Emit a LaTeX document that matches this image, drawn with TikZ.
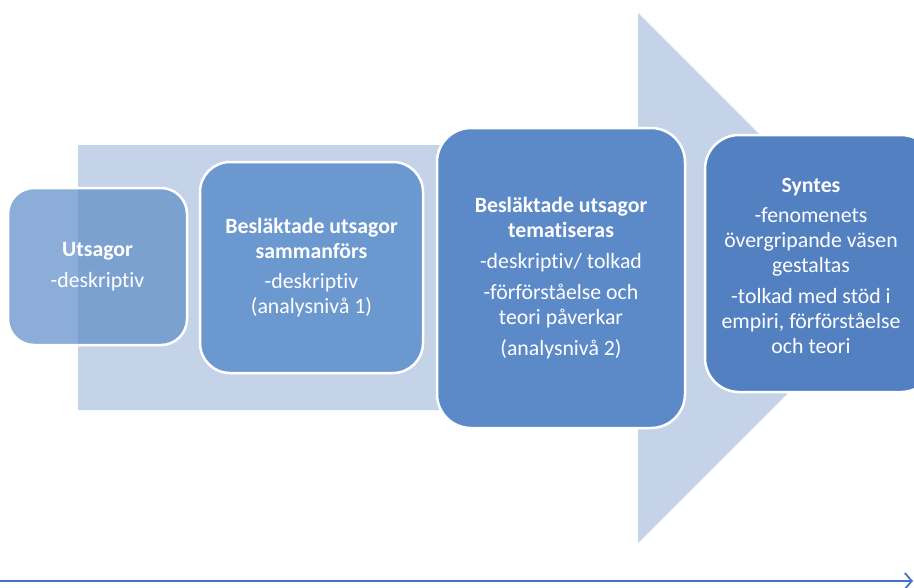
\documentclass[tikz,border=0pt]{standalone}
\usepackage{fontspec}
\setmainfont{Carlito}[Ligatures={NoCommon}]
\usetikzlibrary{arrows.meta}
\definecolor{shaftcol}{RGB}{197,211,233}
\definecolor{boxa}{RGB}{95,142,200}
\definecolor{boxb}{RGB}{108,152,208}
\definecolor{boxc}{RGB}{92,137,199}
\definecolor{boxd}{RGB}{82,128,193}
\definecolor{linecol}{RGB}{68,114,196}
\tikzset{
  steptext/.style={align=center, text=white, inner sep=0pt,
    font=\fontsize{21.8}{25}\selectfont},
  stepbox/.style={steptext, draw=white, line width=2.5pt},
}
\begin{document}
\begin{tikzpicture}[x=1pt,y=-1pt]
\useasboundingbox (0,0) rectangle (914,587);
\begin{scope}
\clip (0,0) rectangle (914,587);
% big background arrow
\fill[shaftcol] (78,145) -- (638,145) -- (638,13) -- (903,278) -- (638,543)
  -- (638,410) -- (78,410) -- cycle;
% process steps
\node[stepbox, fill=boxa, fill opacity=0.72, text opacity=1, rounded corners=26pt,
  minimum width=179pt, minimum height=157pt] (b1) at (97.5,266.5)
  {\textbf{Utsagor}\\[6pt]-deskriptiv};
\node[stepbox, fill=boxb, rounded corners=30pt,
  minimum width=223pt, minimum height=211pt] (b2) at (311.5,267.5)
  {\textbf{Besläktade utsagor}\\\textbf{sammanförs}\\[5pt]-deskriptiv\\(analysnivå 1)};
\node[stepbox, fill=boxc, rounded corners=34pt,
  minimum width=248pt, minimum height=300pt] (b3) at (561,278)
  {\textbf{Besläktade utsagor}\\\textbf{tematiseras}\\[6pt]-deskriptiv/ tolkad\\[6pt]
   -förförståelse och\\teori påverkar\\[6pt](analysnivå 2)};
\node[stepbox, fill=boxd, rounded corners=34pt,
  minimum width=230pt, minimum height=257pt] (b4) at (820,263.5) {};
\node[steptext] (t4) at (811,266)
  {\textbf{Syntes}\\[5pt]-fenomenets\\övergripande väsen\\gestaltas\\[6pt]
   -tolkad med stöd i\\empiri, förförståelse\\och teori};
\end{scope}
% time axis
\coordinate (axs) at (0,581);
\coordinate (axe) at (913,581);
\draw[linecol, line width=2.5pt, -{Straight Barb[length=7pt,width=16pt,line width=1.8pt]}] (axs) -- (axe);
\end{tikzpicture}
\end{document}
